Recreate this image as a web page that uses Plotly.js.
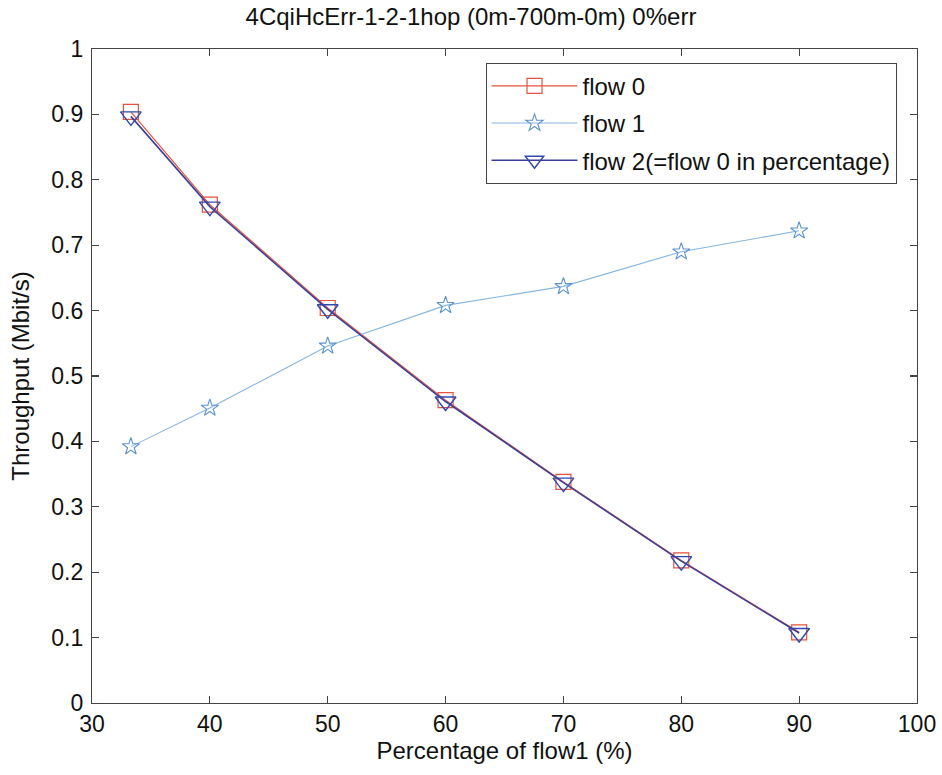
<!DOCTYPE html>
<html>
<head>
<meta charset="utf-8">
<script src="https://cdn.plot.ly/plotly-3.0.1.min.js"></script>
<style>html,body{margin:0;padding:0;background:#fff;}#chart{width:942px;height:775px;}</style>
</head>
<body>
<div id="chart"></div>
<script>
const xValues = [33.3, 40, 50, 60, 70, 80, 90];
const flow0 = [0.904, 0.762, 0.604, 0.463, 0.338, 0.218, 0.108];
const flow1 = [0.392, 0.451, 0.546, 0.608, 0.637, 0.690, 0.722];
const flow2 = [0.897, 0.759, 0.602, 0.461, 0.337, 0.217, 0.107];
const seriesNames = ['flow 0', 'flow 1', 'flow 2(=flow 0 in percentage)'];
const xTicks = [30, 40, 50, 60, 70, 80, 90, 100];
const yTicks = [0, 0.1, 0.2, 0.3, 0.4, 0.5, 0.6, 0.7, 0.8, 0.9, 1];

const FONT = 'Liberation Sans, Arial, sans-serif';

const traces = [
  {x: xValues, y: flow0, name: seriesNames[0], legendgroup: 'a', mode: 'lines+markers', type: 'scatter',
   line: {color: '#e8523b', width: 1.2},
   marker: {symbol: 'square-open', size: 15, color: '#e8523b', line: {width: 1.2}}},
  {x: xValues, y: flow1, name: seriesNames[1], legendgroup: 'b', mode: 'lines+markers', type: 'scatter',
   line: {color: '#86b6e2', width: 1.1},
   marker: {symbol: 'star-open', size: 13, color: '#5b93cf', line: {width: 1.1}}},
  {x: xValues, y: flow2, name: seriesNames[2], legendgroup: 'c', mode: 'lines+markers', type: 'scatter',
   line: {color: '#3b3f9a', width: 1.6},
   marker: {symbol: 'triangle-down-open', size: 18, color: '#3048b0', line: {width: 1.4}}}
];

const axisCommon = {
  showline: true, linecolor: '#444', linewidth: 1.2, mirror: 'allticks',
  ticks: 'inside', ticklen: 7, tickcolor: '#444', tickwidth: 1.2,
  showgrid: false, zeroline: false,
  tickfont: {family: FONT, size: 23, color: '#111'}
};

const layout = {
  width: 942, height: 775,
  margin: {l: 92, r: 25, t: 49, b: 72},
  paper_bgcolor: '#fff', plot_bgcolor: '#fff',
  title: {text: '4CqiHcErr-1-2-1hop (0m-700m-0m) 0%err', x: 0.5, xanchor: 'center', y: 0.978, yanchor: 'middle',
          font: {family: FONT, size: 24, color: '#111'}},
  xaxis: Object.assign({}, axisCommon, {
    range: [30, 100], tickvals: xTicks, ticktext: xTicks.map(String),
    ticklabelstandoff: 0,
    title: {text: 'Percentage of flow1 (%)', standoff: 0,
            font: {family: FONT, size: 24, color: '#111'}}
  }),
  yaxis: Object.assign({}, axisCommon, {
    range: [0, 1], tickvals: yTicks, ticktext: yTicks.map(String),
    ticklabelstandoff: 3,
    title: {text: 'Throughput (Mbit/s)', standoff: 14,
            font: {family: FONT, size: 24, color: '#111'}}
  }),
  showlegend: true,
  legend: {x: 0.477, y: 0.979, xanchor: 'left', yanchor: 'top',
           bordercolor: '#444', borderwidth: 1, bgcolor: '#fff',
           itemwidth: 86, traceorder: 'grouped', tracegroupgap: 3,
           font: {family: FONT, size: 24, color: '#111'}}
};

Plotly.newPlot('chart', traces, layout, {staticPlot: true, displayModeBar: false});
</script>
</body>
</html>
